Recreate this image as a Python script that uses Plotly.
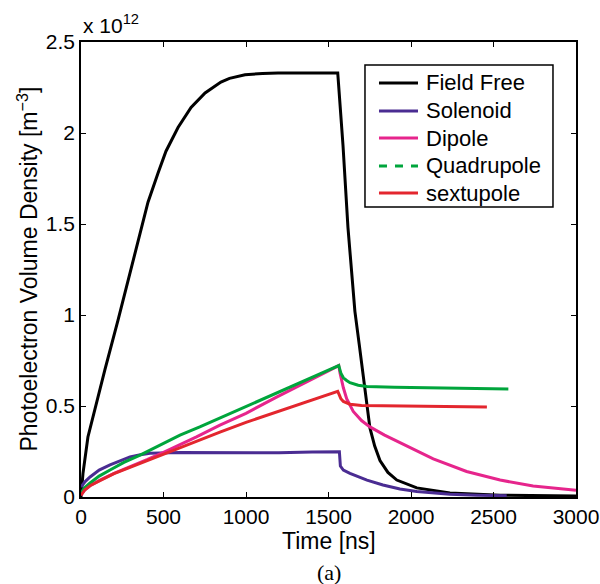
import plotly.graph_objects as go

# values in units of 1e12 m^-3 (axis is scaled "x 10^12")
ff_t = [0, 12, 42, 85, 145, 224, 303, 350, 406, 467, 515, 588, 667, 752, 848, 900, 994, 1100, 1194, 1400, 1556,
        1572, 1588, 1618, 1660, 1686, 1721, 1751, 1780, 1812, 1860, 1914, 2035, 2236, 2540, 2800, 3000]
ff_v = [0, 0.13, 0.33, 0.49, 0.70, 0.97, 1.25, 1.42, 1.62, 1.78, 1.90, 2.03, 2.14, 2.22, 2.28, 2.30, 2.32, 2.327, 2.33, 2.33, 2.33,
        2.13, 1.93, 1.48, 1.02, 0.84, 0.59, 0.38, 0.28, 0.20, 0.135, 0.093, 0.05, 0.022, 0.01, 0.006, 0.005]

sol_t = [0, 25, 55, 110, 176, 240, 297, 360, 418, 600, 842, 1000, 1200, 1400, 1566,
         1572, 1590, 1630, 1733, 1830, 1933, 2035, 2236, 2400, 2580]
sol_v = [0.055, 0.085, 0.11, 0.148, 0.176, 0.2, 0.22, 0.232, 0.24, 0.244, 0.244, 0.242, 0.243, 0.247, 0.249,
         0.17, 0.148, 0.13, 0.093, 0.066, 0.044, 0.03, 0.015, 0.01, 0.007]

dip_t = [0, 24, 60, 115, 200, 297, 400, 500, 600, 700, 842, 1000, 1188, 1350, 1562,
         1570, 1590, 1610, 1650, 1700, 1751, 1840, 1933, 2135, 2337, 2540, 2740, 3000]
dip_v = [0.01, 0.04, 0.065, 0.093, 0.13, 0.165, 0.205, 0.245, 0.286, 0.33, 0.395, 0.46, 0.55, 0.625, 0.722,
         0.68, 0.60, 0.54, 0.47, 0.42, 0.385, 0.34, 0.30, 0.21, 0.14, 0.093, 0.06, 0.037]

quad_t = [0, 20, 55, 110, 176, 260, 358, 480, 600, 720, 842, 1000, 1188, 1350, 1562,
          1575, 1590, 1610, 1630, 1680, 1733, 1900, 2135, 2400, 2590]
quad_v = [0.02, 0.05, 0.077, 0.115, 0.148, 0.19, 0.23, 0.285, 0.34, 0.385, 0.434, 0.497, 0.57, 0.637, 0.722,
          0.68, 0.655, 0.64, 0.628, 0.614, 0.607, 0.603, 0.60, 0.596, 0.593]

sex_t = [0, 24, 60, 115, 200, 297, 400, 500, 600, 700, 842, 1000, 1188, 1350, 1556,
         1566, 1575, 1590, 1630, 1700, 1933, 2200, 2460]
sex_v = [0.01, 0.04, 0.065, 0.09, 0.128, 0.163, 0.2, 0.235, 0.27, 0.305, 0.357, 0.41, 0.467, 0.515, 0.58,
         0.56, 0.54, 0.525, 0.51, 0.503, 0.50, 0.497, 0.495]

names = ["Field Free", "Solenoid", "Dipole", "Quadrupole", "sextupole"]
colors = ["#000000", "#4A2C92", "#E6258C", "#00A53C", "#E3262E"]
legend_dash = ["solid", "solid", "solid", "8px,8px", "solid"]

FONT = "Liberation Sans, Arial, Helvetica, sans-serif"

fig = go.Figure()
series = [(ff_t, ff_v), (sol_t, sol_v), (dip_t, dip_v), (quad_t, quad_v), (sex_t, sex_v)]
for (t, v), n, c in zip(series, names, colors):
    fig.add_trace(go.Scatter(x=t, y=v, mode="lines", name=n,
                             line=dict(color=c, width=3),
                             showlegend=False, hoverinfo="skip"))

axis_common = dict(showline=True, linecolor="black", linewidth=1.5, mirror="ticks",
                   ticks="inside", ticklen=5, tickwidth=1, tickcolor="black",
                   showgrid=False, zeroline=False, automargin=False,
                   tickfont=dict(family=FONT, size=21, color="black"))

fig.update_xaxes(range=[0, 3000], tickvals=[0, 500, 1000, 1500, 2000, 2500, 3000], **axis_common)
fig.update_yaxes(range=[0, 2.5], tickvals=[0, 0.5, 1, 1.5, 2, 2.5],
                 ticktext=["0", "0.5", "1", "1.5", "2", "2.5"], **axis_common)

# legend box (drawn in paper coordinates, matching the MATLAB-style boxed legend)
shapes = [dict(type="rect", xref="paper", yref="paper", x0=0.5737, x1=0.9535, y0=0.6374, y1=0.9495,
               line=dict(color="black", width=1.5), fillcolor="white", layer="above")]
annotations = []
row_y = [0.9099, 0.8484, 0.789, 0.7275, 0.6681]
for n, c, d, y in zip(names, colors, legend_dash, row_y):
    shapes.append(dict(type="line", xref="paper", yref="paper", x0=0.602, x1=0.6808, y0=y, y1=y,
                       line=dict(color=c, width=3, dash=d), layer="above"))
    annotations.append(dict(text=n, xref="paper", yref="paper", x=0.693, y=y,
                            xanchor="left", yanchor="middle", showarrow=False,
                            font=dict(family=FONT, size=22, color="black")))

annotations += [
    dict(text="x 10<sup>12</sup>", xref="paper", yref="paper", x=0, y=1.0,
         xanchor="left", yanchor="bottom", yshift=3, showarrow=False,
         font=dict(family=FONT, size=21)),
    dict(text="Photoelectron Volume Density [m<sup>\u22123</sup>]", xref="paper", yref="paper",
         x=-0.109, y=0.5, xanchor="center", yanchor="middle", textangle=-90, showarrow=False,
         font=dict(family=FONT, size=23)),
    dict(text="Time [ns]", xref="paper", yref="paper", x=0.5, y=-0.0967,
         xanchor="center", yanchor="middle", showarrow=False,
         font=dict(family=FONT, size=23)),
    dict(text="(a)", xref="paper", yref="paper", x=0.5, y=-0.165,
         xanchor="center", yanchor="middle", showarrow=False,
         font=dict(family="Liberation Serif, Times New Roman, serif", size=22)),
]

fig.update_layout(
    width=600, height=584,
    margin=dict(l=81, r=24, t=42, b=87, autoexpand=False),
    paper_bgcolor="white", plot_bgcolor="white",
    font=dict(family=FONT, size=21, color="black"),
    showlegend=False,
    shapes=shapes,
    annotations=annotations,
)

fig.write_html("out.html")
